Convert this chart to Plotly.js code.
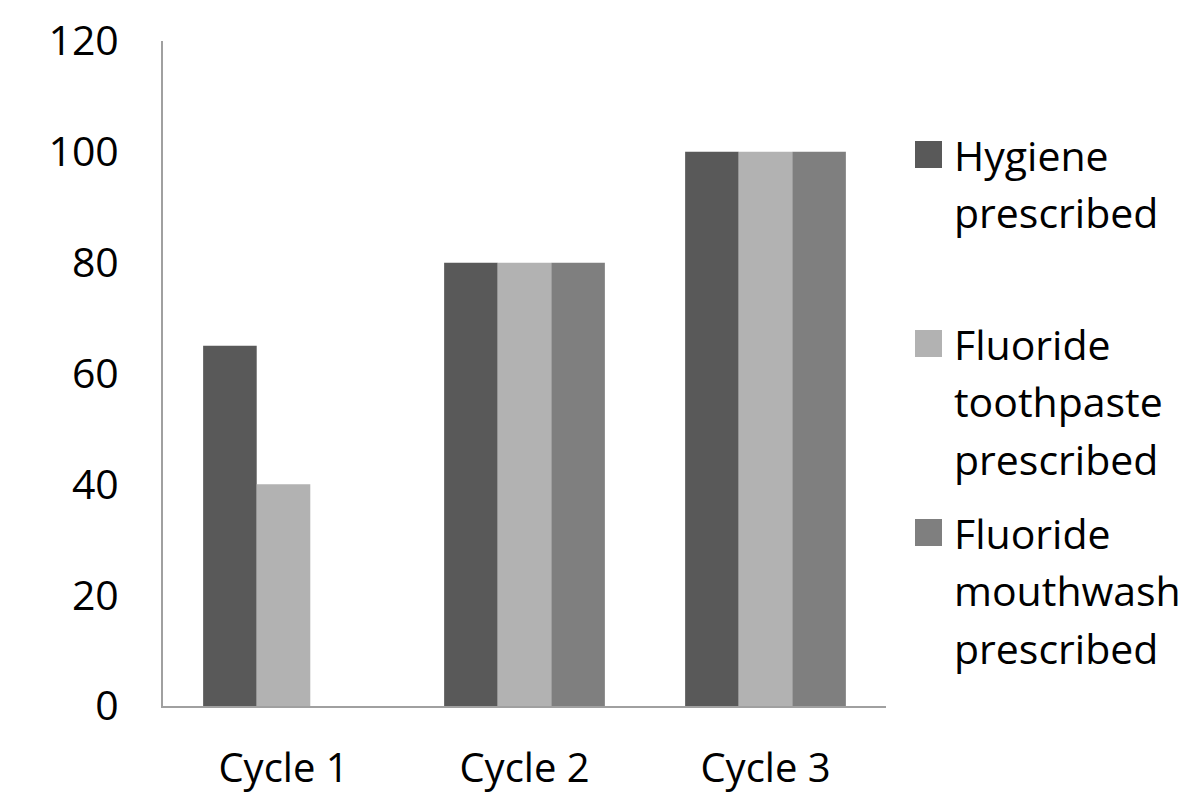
<!DOCTYPE html>
<html>
<head>
<meta charset="utf-8">
<script src="https://cdn.plot.ly/plotly-3.0.1.min.js"></script>
<style>
  html, body { margin: 0; padding: 0; background: #fff; }
  #chart { width: 1190px; height: 793px; }
</style>
</head>
<body>
<div id="chart"></div>
<script>
// Percentage of patients with each prescription, per audit cycle
const cycles = ['Cycle 1', 'Cycle 2', 'Cycle 3'];
const hygiene = [65, 80, 100];
const toothpaste = [40, 80, 100];
const mouthwash = [0, 80, 100];

const seriesNames = ['Hygiene prescribed', 'Fluoride toothpaste prescribed', 'Fluoride mouthwash prescribed'];
const legendLines = [
  ['Hygiene', 'prescribed'],
  ['Fluoride', 'toothpaste', 'prescribed'],
  ['Fluoride', 'mouthwash', 'prescribed']
];
const seriesColors = ['#595959', '#b2b2b2', '#7f7f7f'];
const yTicks = [0, 20, 40, 60, 80, 100, 120];

const W = 1190, H = 793;
const M = { l: 163, r: 304, t: 41, b: 87 };
const plotW = W - M.l - M.r, plotH = H - M.t - M.b;
const FONT = '"Open Sans", "Liberation Sans", sans-serif';

// pixel position -> paper coordinates for the hand-built legend
const px = x => (x - M.l) / plotW;
const py = y => (H - M.b - y) / plotH;

const values = [hygiene, toothpaste, mouthwash];
const traces = values.map((v, i) => ({
  type: 'bar',
  name: seriesNames[i],
  x: cycles,
  y: v,
  marker: { color: seriesColors[i], line: { width: 0 } },
  hoverinfo: 'x+y+name'
}));

// Legend: swatch + stacked lines of text, evenly spaced entries
const shapes = [];
const annotations = [];
const entryTop = [141, 330, 519];
const sw = 27, swX = 915, textX = 952, lineGap = 57.5;
legendLines.forEach((lines, i) => {
  const top = entryTop[i];
  shapes.push({
    type: 'rect', xref: 'paper', yref: 'paper',
    x0: px(swX), x1: px(swX + sw), y0: py(top + sw), y1: py(top),
    fillcolor: seriesColors[i], line: { width: 0 }
  });
  lines.forEach((t, j) => {
    annotations.push({
      xref: 'paper', yref: 'paper',
      x: px(textX), y: py(top + sw / 2 + j * lineGap),
      xanchor: 'left', yanchor: 'middle',
      text: t, showarrow: false,
      font: { family: FONT, size: 41, color: '#000' }
    });
  });
});

const layout = {
  width: W, height: H,
  margin: M,
  paper_bgcolor: '#fff', plot_bgcolor: '#fff',
  barmode: 'group',
  bargap: 0.333,
  bargroupgap: 0,
  showlegend: false,
  font: { family: FONT, color: '#000' },
  xaxis: {
    showline: true, linecolor: '#a0a0a0', linewidth: 2,
    showgrid: false, zeroline: false, ticks: '',
    tickfont: { family: FONT, size: 40, color: '#000' },
    ticklabelstandoff: 26
  },
  yaxis: {
    range: [0, 120],
    tickvals: yTicks,
    ticktext: yTicks.map(String),
    showline: true, linecolor: '#a0a0a0', linewidth: 2,
    showgrid: false, zeroline: false, ticks: '',
    tickfont: { family: FONT, size: 41, color: '#000' },
    ticklabelstandoff: 34
  },
  shapes: shapes,
  annotations: annotations
};

Plotly.newPlot('chart', traces, layout, { displayModeBar: false, staticPlot: true });
</script>
</body>
</html>
